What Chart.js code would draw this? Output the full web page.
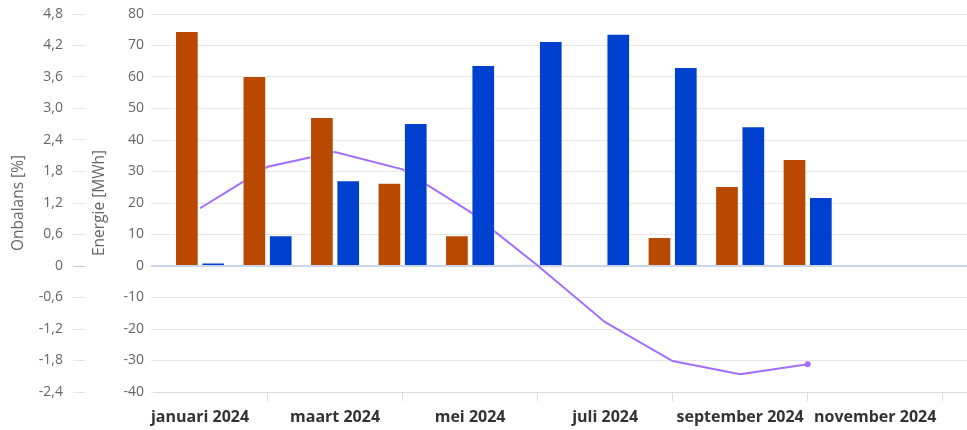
<!DOCTYPE html>
<html>
<head>
<meta charset="utf-8">
<script src="https://cdn.jsdelivr.net/npm/chart.js@4"></script>
<style>
  html, body { margin: 0; padding: 0; background: #ffffff; }
  #wrap { width: 967px; height: 430px; position: relative; }
</style>
</head>
<body>
<div id="wrap"><canvas id="chart"></canvas></div>
<script>
const months = [
  "januari 2024", "februari 2024", "maart 2024", "april 2024",
  "mei 2024", "juni 2024", "juli 2024", "augustus 2024",
  "september 2024", "oktober 2024", "november 2024", "december 2024",
];
const verbruik = [74.6, 60.3, 47.3, 26.4, 9.8, 0.4, 0.3, 9.2, 25.4, 34.0, null, null];
const opwek = [1.1, 9.8, 27.2, 45.4, 63.8, 71.4, 73.7, 63.2, 44.4, 21.9, null, null];
const onbalans = [1.1, 1.89, 2.17, 1.84, 1.03, 0.01, -1.07, -1.81, -2.06, -1.87, null, null];

const FONT = "'Open Sans', sans-serif";
const GRID = "#e6e6e6";
const AXIS_LINE = "#ccd6eb";

function toPoints(values) {
  return values.map((v, i) => ({ x: i, y: v }));
}

function formatPct(value) {
  if (Math.abs(value) < 1e-9) {
    return "0";
  }
  return value.toFixed(1).replace(".", ",");
}

const lastIdx = onbalans.reduce((acc, v, i) => (v !== null ? i : acc), 0);

new Chart(document.getElementById("chart"), {
  data: {
    datasets: [
      {
        type: "bar",
        label: "Verbruik",
        data: toPoints(verbruik),
        backgroundColor: "#b94800",
        borderColor: "rgba(255,255,255,0.55)",
        borderWidth: 1,
        xAxisID: "x",
        yAxisID: "yEnergie",
        categoryPercentage: 0.78,
        barPercentage: 0.9,
        order: 1,
      },
      {
        type: "bar",
        label: "Opwek",
        data: toPoints(opwek),
        backgroundColor: "#0040cf",
        borderColor: "rgba(255,255,255,0.55)",
        borderWidth: 1,
        xAxisID: "x",
        yAxisID: "yEnergie",
        categoryPercentage: 0.78,
        barPercentage: 0.9,
        order: 1,
      },
      {
        type: "line",
        label: "Onbalans",
        data: toPoints(onbalans),
        borderColor: "#a46dff",
        backgroundColor: "#a46dff",
        borderWidth: 2,
        tension: 0,
        pointRadius: onbalans.map((v, i) => (i === lastIdx ? 3 : 0)),
        pointBorderWidth: 0,
        xAxisID: "x",
        yAxisID: "yOnbalans",
        order: 2,
      },
    ],
  },
  options: {
    responsive: true,
    maintainAspectRatio: false,
    animation: false,
    layout: { padding: { top: 14, right: 0, bottom: 0, left: 0 } },
    plugins: {
      legend: { display: false },
      tooltip: { enabled: false },
    },
    scales: {
      x: {
        type: "linear",
        offset: false,
        min: -0.667,
        max: 11.36,
        afterBuildTicks: (scale) => {
          scale.ticks = months.map((m, i) => ({ value: i }));
        },
        afterFit: (scale) => {
          scale.height = 38;
        },
        ticks: {
          autoSkip: false,
          maxRotation: 0,
          padding: 7,
          color: "#333333",
          font: { family: FONT, size: 16, weight: "bold" },
          callback: (value) => (value % 2 === 0 ? months[value] : ""),
        },
        grid: {
          offset: false,
          drawOnChartArea: false,
          tickLength: 9,
          tickColor: (ctx) => (ctx.tick && ctx.tick.value % 2 === 1 ? "#dcdcdc" : "rgba(0,0,0,0)"),
        },
        border: { color: "#d6d6dc", width: 1 },
      },
      yEnergie: {
        type: "linear",
        position: "left",
        weight: 0,
        min: -40,
        max: 80,
        afterBuildTicks: (scale) => {
          const ticks = [];
          for (let v = -40; v <= 80; v += 10) ticks.push({ value: v });
          scale.ticks = ticks;
        },
        afterFit: (scale) => {
          scale.width = 70;
          scale.paddingTop = 0;
          scale.paddingBottom = 0;
        },
        title: {
          display: true,
          text: "Energie [MWh]",
          color: "#666666",
          font: { family: FONT, size: 15.5 },
          padding: { top: 5, bottom: 0 },
        },
        ticks: {
          color: "#666666",
          padding: 7,
          font: { family: FONT, size: 14 },
        },
        grid: {
          color: (ctx) => (ctx.tick && ctx.tick.value === 0 ? AXIS_LINE : GRID),
          lineWidth: (ctx) => (ctx.tick && ctx.tick.value === 0 ? 2 : 1),
          tickLength: 4,
        },
        border: { display: false },
      },
      yOnbalans: {
        type: "linear",
        position: "left",
        weight: 1,
        min: -2.4,
        max: 4.8,
        afterBuildTicks: (scale) => {
          const ticks = [];
          for (let i = -4; i <= 8; i++) ticks.push({ value: i * 0.6 });
          scale.ticks = ticks;
        },
        afterFit: (scale) => {
          scale.width = 85;
          scale.paddingTop = 0;
          scale.paddingBottom = 0;
        },
        title: {
          display: true,
          text: "Onbalans [%]",
          color: "#666666",
          font: { family: FONT, size: 15.5 },
          padding: { top: 9, bottom: 0 },
        },
        ticks: {
          color: "#666666",
          padding: 10,
          font: { family: FONT, size: 14 },
          callback: (value) => formatPct(value),
        },
        grid: {
          drawOnChartArea: false,
          tickLength: 12,
          tickColor: (ctx) => (ctx.tick && Math.abs(ctx.tick.value) < 1e-9 ? "#c8c8c8" : "#e4e4e4"),
        },
        border: { display: false },
      },
    },
  },
});
</script>
</body>
</html>
